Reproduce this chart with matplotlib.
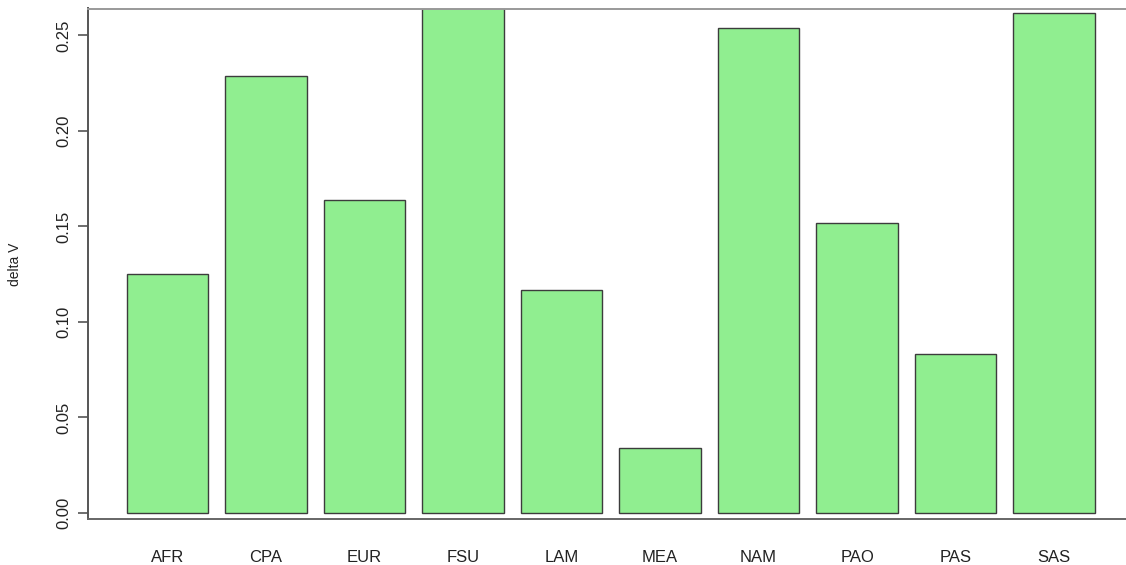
import numpy as np
import matplotlib
matplotlib.use('Agg')
import matplotlib.pyplot as plt

regions = ['AFR', 'CPA', 'EUR', 'FSU', 'LAM', 'MEA', 'NAM', 'PAO', 'PAS', 'SAS']
delta_v = [0.125, 0.229, 0.164, 0.2645, 0.117, 0.034, 0.254, 0.152, 0.083, 0.262]
yticks = [0.00, 0.05, 0.10, 0.15, 0.20, 0.25]

plt.rcParams['font.family'] = ['Liberation Sans', 'DejaVu Sans']

fig = plt.figure(figsize=(11.26, 5.65), dpi=100)
ax = fig.add_axes([88/1126, 46/565, 1 - 88/1126, 510.5/565])

x = np.arange(len(regions))
ax.bar(x, delta_v, width=0.83, color='#90ee90', edgecolor='#3c3c3c', linewidth=1.0)

ax.set_xlim(-0.807, 9.73)
ax.set_ylim(-0.00314, 0.2641)

ax.set_yticks(yticks)
ax.set_yticklabels(['%.2f' % t for t in yticks], rotation=90, va='center')
ax.tick_params(axis='y', length=7, width=1.2, color='#555555', pad=5,
               labelsize=12, labelcolor='#222222')
ax.set_xticks(x)
ax.set_xticklabels(regions)
ax.tick_params(axis='x', length=0, pad=22, labelsize=12, labelcolor='#222222')

ax.spines['right'].set_visible(False)
ax.spines['left'].set_color('#555555')
ax.spines['bottom'].set_color('#666666')
ax.spines['top'].set_color('#999999')
for s in ['left', 'bottom', 'top']:
    ax.spines[s].set_linewidth(1.4)

fig.text(15/1126, 1 - 264/565, 'delta V', rotation=90, ha='center', va='center',
         fontsize=10, color='#222222')

fig.savefig('out.png', dpi=100)
